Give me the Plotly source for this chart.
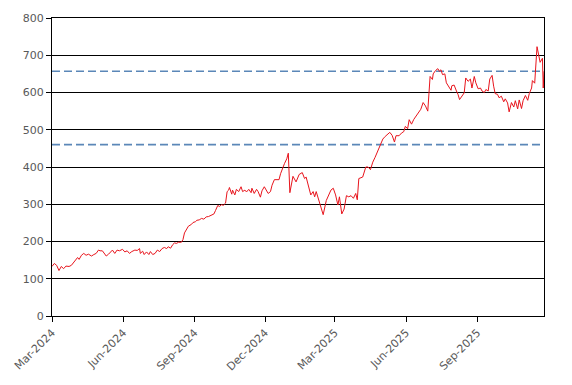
import pandas as pd
import plotly.graph_objects as go

start_date = "2024-03-01"
day_offsets = [0, 3, 6, 9, 12, 15, 18, 22, 25, 28, 30, 33, 35, 38, 41, 44, 47, 51, 54, 57,
               60, 62, 65, 67, 70, 73, 76, 78, 81, 84, 87, 91, 94, 97, 100, 103, 107, 110, 113, 114,
               117, 119, 122, 125, 127, 130, 133, 136, 139, 142, 145, 148, 150, 153, 156, 158, 161, 163, 167, 169,
               171, 174, 176, 180, 182, 185, 187, 190, 193, 196, 199, 202, 205, 209, 211, 214, 216, 219, 221, 224,
               226, 228, 229, 232, 233, 236, 238, 241, 244, 246, 249, 251, 254, 257, 258, 261, 264, 266, 269, 271,
               274, 276, 279, 282, 284, 287, 289, 293, 295, 298, 300, 303, 305, 307, 311, 315, 319, 323, 326, 328,
               331, 334, 337, 339, 341, 344, 347, 350, 354, 357, 360, 363, 366, 369, 371, 374, 377, 380, 383, 386,
               389, 392, 394, 396, 401, 405, 408, 411, 414, 417, 420, 424, 427, 430, 433, 436, 439, 442, 444, 448,
               451, 454, 456, 459, 461, 464, 467, 470, 473, 476, 479, 482, 485, 487, 488, 491, 492, 495, 498, 500,
               502, 504, 507, 509, 512, 515, 516, 519, 522, 524, 526, 529, 532, 534, 537, 540, 542, 545, 547, 550,
               553, 555, 558, 560, 563, 565, 568, 570, 572, 575, 577, 580, 583, 585, 588, 590, 593, 596, 598, 601,
               603, 606, 608, 611, 614, 616, 619, 620, 623, 626, 628, 630, 633, 634, 635]
price = [133, 141, 136, 122, 133, 127, 134, 133, 136, 143, 150, 157, 152, 163, 168, 163, 166, 161, 165, 168,
         177, 175, 175, 168, 161, 166, 172, 177, 168, 177, 175, 179, 172, 175, 168, 173, 177, 176, 181, 168,
         174, 165, 172, 165, 173, 165, 168, 177, 173, 181, 184, 181, 186, 182, 192, 196, 195, 198, 198, 205,
         223, 232, 241, 246, 251, 253, 257, 258, 262, 260, 266, 267, 271, 274, 283, 297, 294, 299, 297, 303,
         334, 338, 345, 327, 338, 325, 340, 334, 347, 334, 338, 333, 340, 331, 343, 329, 340, 334, 319, 336,
         347, 340, 329, 334, 351, 366, 366, 366, 382, 400, 409, 422, 437, 331, 375, 360, 380, 385, 369, 373,
         351, 325, 334, 320, 334, 311, 289, 272, 310, 325, 338, 343, 325, 298, 320, 274, 287, 323, 320, 323,
         316, 329, 312, 369, 373, 400, 400, 393, 413, 426, 440, 460, 475, 482, 487, 493, 485, 467, 484, 484,
         491, 495, 509, 503, 527, 515, 528, 537, 544, 555, 573, 564, 550, 630, 643, 635, 650, 659, 664, 657,
         661, 648, 650, 626, 614, 606, 618, 620, 604, 595, 581, 592, 599, 639, 630, 636, 612, 643, 626, 610,
         612, 604, 600, 608, 604, 636, 646, 617, 597, 595, 586, 590, 575, 583, 572, 548, 573, 561, 578, 556,
         580, 557, 578, 592, 579, 597, 612, 632, 625, 723, 706, 681, 692, 612, 657]
upper_level = 657
lower_level = 460

dates = pd.Timestamp(start_date) + pd.to_timedelta(day_offsets, unit="D")
x_span = [dates[0], dates[-1]]

fig = go.Figure()
fig.add_trace(go.Scatter(x=x_span, y=[upper_level, upper_level], mode="lines",
                         line=dict(color="#5B87B8", width=1.6, dash="8px,4px"), hoverinfo="skip"))
fig.add_trace(go.Scatter(x=x_span, y=[lower_level, lower_level], mode="lines",
                         line=dict(color="#5B87B8", width=1.6, dash="8px,4px"), hoverinfo="skip"))
fig.add_trace(go.Scatter(x=dates, y=price, mode="lines",
                         line=dict(color="#E8141C", width=1)))

fig.update_layout(
    width=572, height=385,
    margin=dict(l=52, r=28, t=15, b=67),
    paper_bgcolor="white", plot_bgcolor="white",
    showlegend=False,
    font=dict(family="DejaVu Sans", size=11, color="#595959"),
)
fig.update_xaxes(
    type="date", range=x_span,
    tick0="2024-03-01", dtick="M3", tickformat="%b-%Y", tickangle=-45,
    ticks="outside", ticklen=5, tickcolor="black",
    showline=True, linecolor="black", linewidth=1, mirror=True,
    showgrid=False, zeroline=False,
)
fig.update_yaxes(
    range=[0, 800], dtick=100,
    ticks="outside", ticklen=5, tickcolor="black",
    showline=True, linecolor="black", linewidth=1, mirror=True,
    showgrid=True, gridcolor="black", gridwidth=1, zeroline=False,
)
fig.write_html("out.html", config={"displayModeBar": False},
               post_script="document.body.style.margin='0';document.body.style.overflow='hidden';")
